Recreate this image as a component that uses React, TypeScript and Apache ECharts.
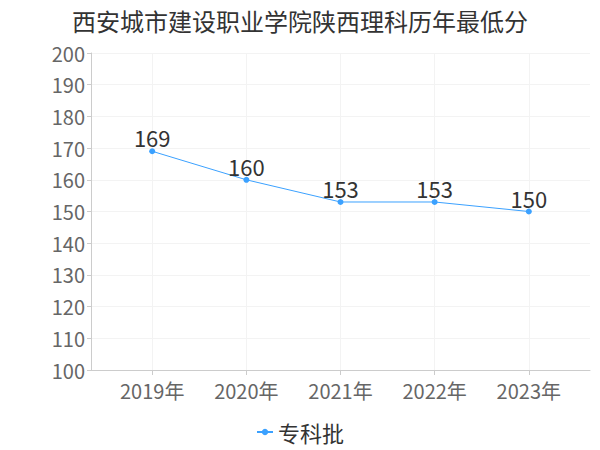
import React, { useEffect, useRef } from "react";
import * as echarts from "echarts";

const titleText = "西安城市建设职业学院陕西理科历年最低分";
const years = [2019, 2020, 2021, 2022, 2023];
const seriesName = "专科批";
const scores = [169, 160, 153, 153, 150];

export default function App() {
  const ref = useRef<HTMLDivElement>(null);
  useEffect(() => {
    if (!ref.current) return;
    const chart = echarts.init(ref.current, null, { renderer: "svg" });
    const fontFamily = "'Noto Sans CJK SC', 'Noto Sans', sans-serif";
    chart.setOption({
      animation: false,
      textStyle: { fontFamily },
      title: {
        text: titleText,
        left: "center",
        top: 3,
        textStyle: { fontSize: 24, color: "#333", fontWeight: "normal", fontFamily },
      },
      legend: {
        bottom: 2,
        left: "center",
        itemWidth: 16,
        itemHeight: 8,
        itemGap: 10,
        textStyle: { fontSize: 22, color: "#333", fontFamily },
        data: [seriesName],
      },
      grid: { left: 91, right: 10, top: 53, bottom: 80, containLabel: false },
      xAxis: {
        type: "value",
        min: years[0] - 0.65,
        max: years[years.length - 1] + 0.65,
        axisLine: { show: true, lineStyle: { color: "#ccc" } },
        axisTick: { show: true, customValues: years, length: 5, lineStyle: { color: "#ccc" } },
        axisLabel: {
          customValues: years,
          formatter: (v: number) => `${v}年`,
          fontSize: 20,
          color: "#666",
          margin: 10,
          fontFamily,
        },
        splitLine: { show: true, lineStyle: { color: "#f3f3f3" } },
      },
      yAxis: {
        type: "value",
        min: 100,
        max: 200,
        interval: 10,
        axisLine: { show: true, lineStyle: { color: "#ccc" } },
        axisTick: { show: true, length: 4, lineStyle: { color: "#ccc" } },
        axisLabel: { fontSize: 20, color: "#666", margin: 6, fontFamily },
        splitLine: { show: true, lineStyle: { color: "#f3f3f3" } },
      },
      series: [
        {
          name: seriesName,
          type: "line",
          data: years.map((y, i) => [y, scores[i]]),
          symbol: "circle",
          symbolSize: 6,
          itemStyle: { color: "#3ba1ff" },
          lineStyle: { color: "#3ba1ff", width: 1 },
          label: {
            show: true,
            position: "top",
            fontSize: 22,
            color: "#333",
            distance: 0,
            fontFamily,
          },
        },
      ],
    });
    return () => chart.dispose();
  }, []);
  return <div ref={ref} style={{ width: 600, height: 450, position: "absolute", left: 0, top: 0 }} />;
}
